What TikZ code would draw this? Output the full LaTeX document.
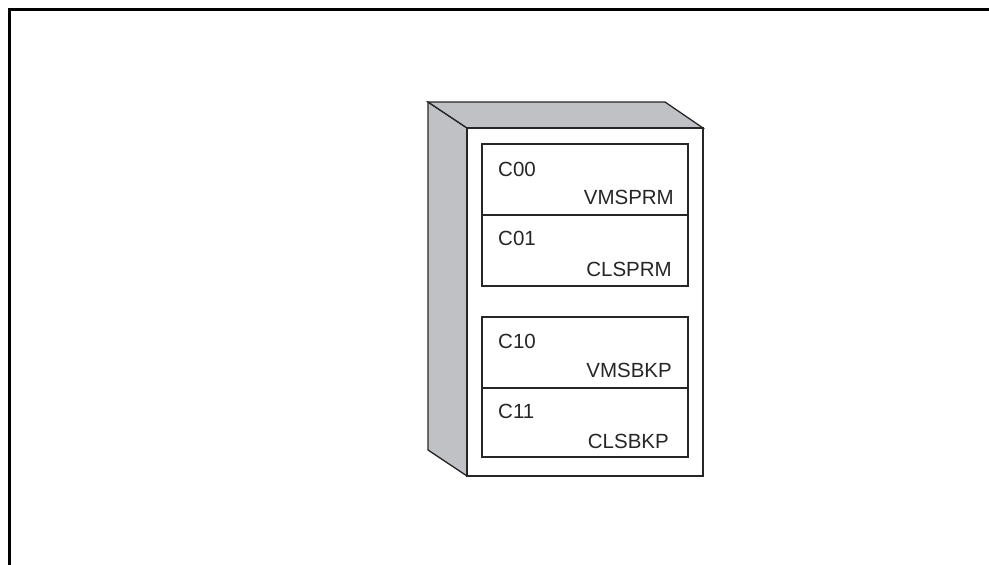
\documentclass[tikz,border=0pt]{standalone}
\usepackage{fontspec}
\setmainfont{Liberation Sans}
\definecolor{facegrey}{RGB}{192,193,197}
\begin{document}
\begin{tikzpicture}[x=1pt,y=-1pt,
  edge/.style={draw=black!85,line width=1.3pt,line join=miter},
  face/.style={edge,fill=facegrey},
  panel/.style={edge,fill=white},
  lbl/.style={font=\fontsize{20.5}{23}\selectfont,text=black!85,inner sep=0pt}]
\useasboundingbox (0,0) rectangle (989,565);
% outer frame (top and left only)
\draw[line width=3pt,black] (9,566) -- (9,9.5) -- (990,9.5);
% cabinet
\draw[face] (428,102) -- (467,128) -- (467,476) -- (428,450) -- cycle;
\draw[face] (428,102) -- (665,102) -- (703,128) -- (467,128) -- cycle;
\draw[panel] (467,128) rectangle (703,476);
% upper panel
\draw[panel] (482,144) rectangle (688,286);
\draw[edge] (482,215) -- (688,215);
% lower panel
\draw[panel] (482,317) rectangle (688,457);
\draw[edge] (482,388) -- (688,388);
% labels
\node[lbl,anchor=base west] (c00) at (498,176) {C00};
\node[lbl,anchor=base east] (vmsprm) at (674,204) {VMSPRM};
\node[lbl,anchor=base west] (c01) at (498,245) {C01};
\node[lbl,anchor=base east] (clsprm) at (672,276) {CLSPRM};
\node[lbl,anchor=base west] (c10) at (498,348) {C10};
\node[lbl,anchor=base east] (vmsbkp) at (672,377) {VMSBKP};
\node[lbl,anchor=base west] (c11) at (498,418) {C11};
\node[lbl,anchor=base east] (clsbkp) at (669,448) {CLSBKP};
\end{tikzpicture}
\end{document}
